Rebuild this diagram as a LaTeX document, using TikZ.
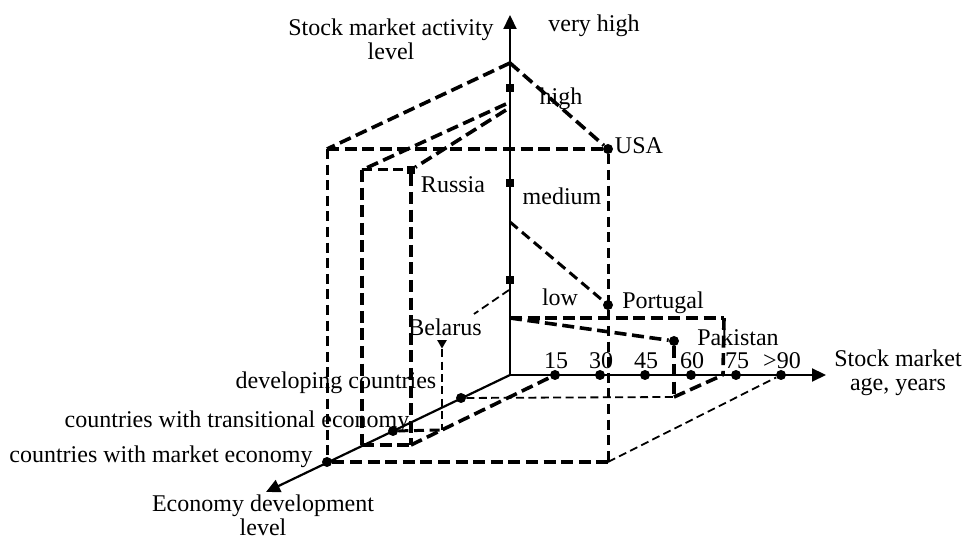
\documentclass[tikz,border=0pt]{standalone}
\usepackage{fontspec}
\setmainfont{Liberation Serif}
\usetikzlibrary{arrows.meta,shapes.geometric}

\begin{document}
\begin{tikzpicture}[x=0.5pt, y=-0.5pt, >={Triangle[length=7pt,width=6.5pt]},
		axis/.style={line width=1.1pt},
		thickdash/.style={line width=1.8pt, dash pattern=on 6pt off 2.8pt},
		middash/.style={line width=1.5pt, dash pattern=on 5pt off 2.8pt},
		thindash/.style={line width=0.9pt, dash pattern=on 4pt off 2.2pt},
		dot/.style={circle, fill, inner sep=0pt, minimum size=5pt},
		sqdot/.style={rectangle, fill, inner sep=0pt, minimum size=4pt},
		belmark/.style={regular polygon, regular polygon sides=3, shape border rotate=180, fill, inner sep=0pt, minimum size=5.5pt},
		lbl/.style={inner sep=0pt, font=\fontsize{12}{11.8}\selectfont, align=center}]
				\useasboundingbox (0, 0) rectangle (966, 539);
				% axes
				\coordinate (O) at (510, 375);
				\coordinate (vTip) at (510, 15);
				\coordinate (hTip) at (826, 375);
				\coordinate (dTip) at (266, 492);
				\draw[->, axis] (O) -- (vTip);
				\draw[->, axis] (O) -- (hTip);
				\draw[->, axis] (O) -- (dTip);
				% points on the axes
				\foreach \name/\xx/\txt in {t15/555/15, t30/600/30, t45/645/45, t60/691/60, t75/736/75, t90/781/{>90}}
				{
					\node[dot] (\name) at (\xx, 375) {};
					\node[lbl] (lbl\name) at (\xx+1, 361) {\txt};
				}
				\foreach \name/\yy in {vHigh/88, vMed/183, vLow/280}
					\node[sqdot] (\name) at (510, \yy) {};
				\node[dot] (market) at (327, 462) {};
				\node[dot] (transit) at (393, 431) {};
				\node[dot] (develop) at (461, 398) {};
				% USA
				\coordinate (apex) at (510, 63);
				\coordinate (mTop) at (327, 149);
				\coordinate (mBot) at (608, 462);
				\node[dot] (usa) at (608, 149) {};
				\node[dot] (portugal) at (608, 305) {};
				\draw[thickdash] (apex) -- (mTop);
				\draw[thickdash] (apex) -- (usa);
				\draw[thickdash] (mTop) -- (usa);
				\draw[middash] (mTop) -- (market);
				\draw[middash] (usa) -- (mBot);
				\draw[thickdash] (market) -- (mBot);
				\draw[thindash] (mBot) -- (t90);
				% Russia
				\coordinate (rStartA) at (506, 104);
				\coordinate (rStartB) at (506, 110);
				\coordinate (tTop) at (362, 170);
				\coordinate (tBotL) at (362, 445);
				\coordinate (tBotR) at (411, 445);
				\node[sqdot] (russia) at (411, 170) {};
				\draw[thickdash] (rStartA) -- (tTop);
				\draw[thickdash] (rStartB) -- (russia);
				\draw[middash] (tTop) -- (russia);
				\draw[thickdash] (tTop) -- (tBotL);
				\draw[thickdash] (russia) -- (tBotR);
				\draw[thickdash] (tBotL) -- (tBotR);
				\draw[thickdash] (tBotR) -- (t15);
				% Portugal
				\coordinate (pStart) at (510, 222);
				\draw[middash] (pStart) -- (portugal);
				% Belarus
				\coordinate (bStart) at (509, 290);
				\coordinate (bEnd) at (474, 314);
				\coordinate (bBot) at (442, 430);
				\node[belmark] (belarus) at (442, 343) {};
				\draw[thindash] (bStart) -- (bEnd);
				\draw[thindash] (belarus) -- (bBot);
				\draw[middash] (transit) -- (bBot);
				% Pakistan
				\coordinate (lowL) at (510, 318);
				\coordinate (lowR) at (724, 318);
				\coordinate (lowRB) at (723, 375);
				\coordinate (kBot) at (674, 397);
				\node[dot] (pakistan) at (674, 341) {};
				\draw[thickdash] (lowL) -- (lowR);
				\draw[thickdash] (lowR) -- (lowRB);
				\draw[thickdash] (lowL) -- (pakistan);
				\draw[thickdash] (pakistan) -- (kBot);
				\draw[thickdash] (kBot) -- (lowRB);
				\draw[thindash] (develop) -- (kBot);
				% labels
				\node[lbl] (lblActivity) at (391, 39) {Stock market activity\\level};
				\node[lbl] (lblVeryHigh) at (594, 26) {very high};
				\node[lbl] (lblHigh) at (561, 99) {high};
				\node[lbl] (lblMedium) at (562, 196) {medium};
				\node[lbl] (lblLow) at (560, 297) {low};
				\node[lbl] (lblUSA) at (639, 146) {USA};
				\node[lbl] (lblPortugal) at (663, 303) {Portugal};
				\node[lbl] (lblPakistan) at (738, 337) {Pakistan};
				\node[lbl] (lblRussia) at (453, 185) {Russia};
				\node[lbl] (lblBelarus) at (445, 327) {Belarus};
				\node[lbl] (lblAge) at (898, 373) {Stock market\\age, years};
				\node[lbl] (lblDev) at (336, 383) {developing countries};
				\node[lbl] (lblTrans) at (237, 422) {countries with transitional economy};
				\node[lbl] (lblMarket) at (161, 457) {countries with market economy};
				\node[lbl] (lblEcon) at (263, 515) {Economy development\\level};
		\end{tikzpicture}
\end{document}
